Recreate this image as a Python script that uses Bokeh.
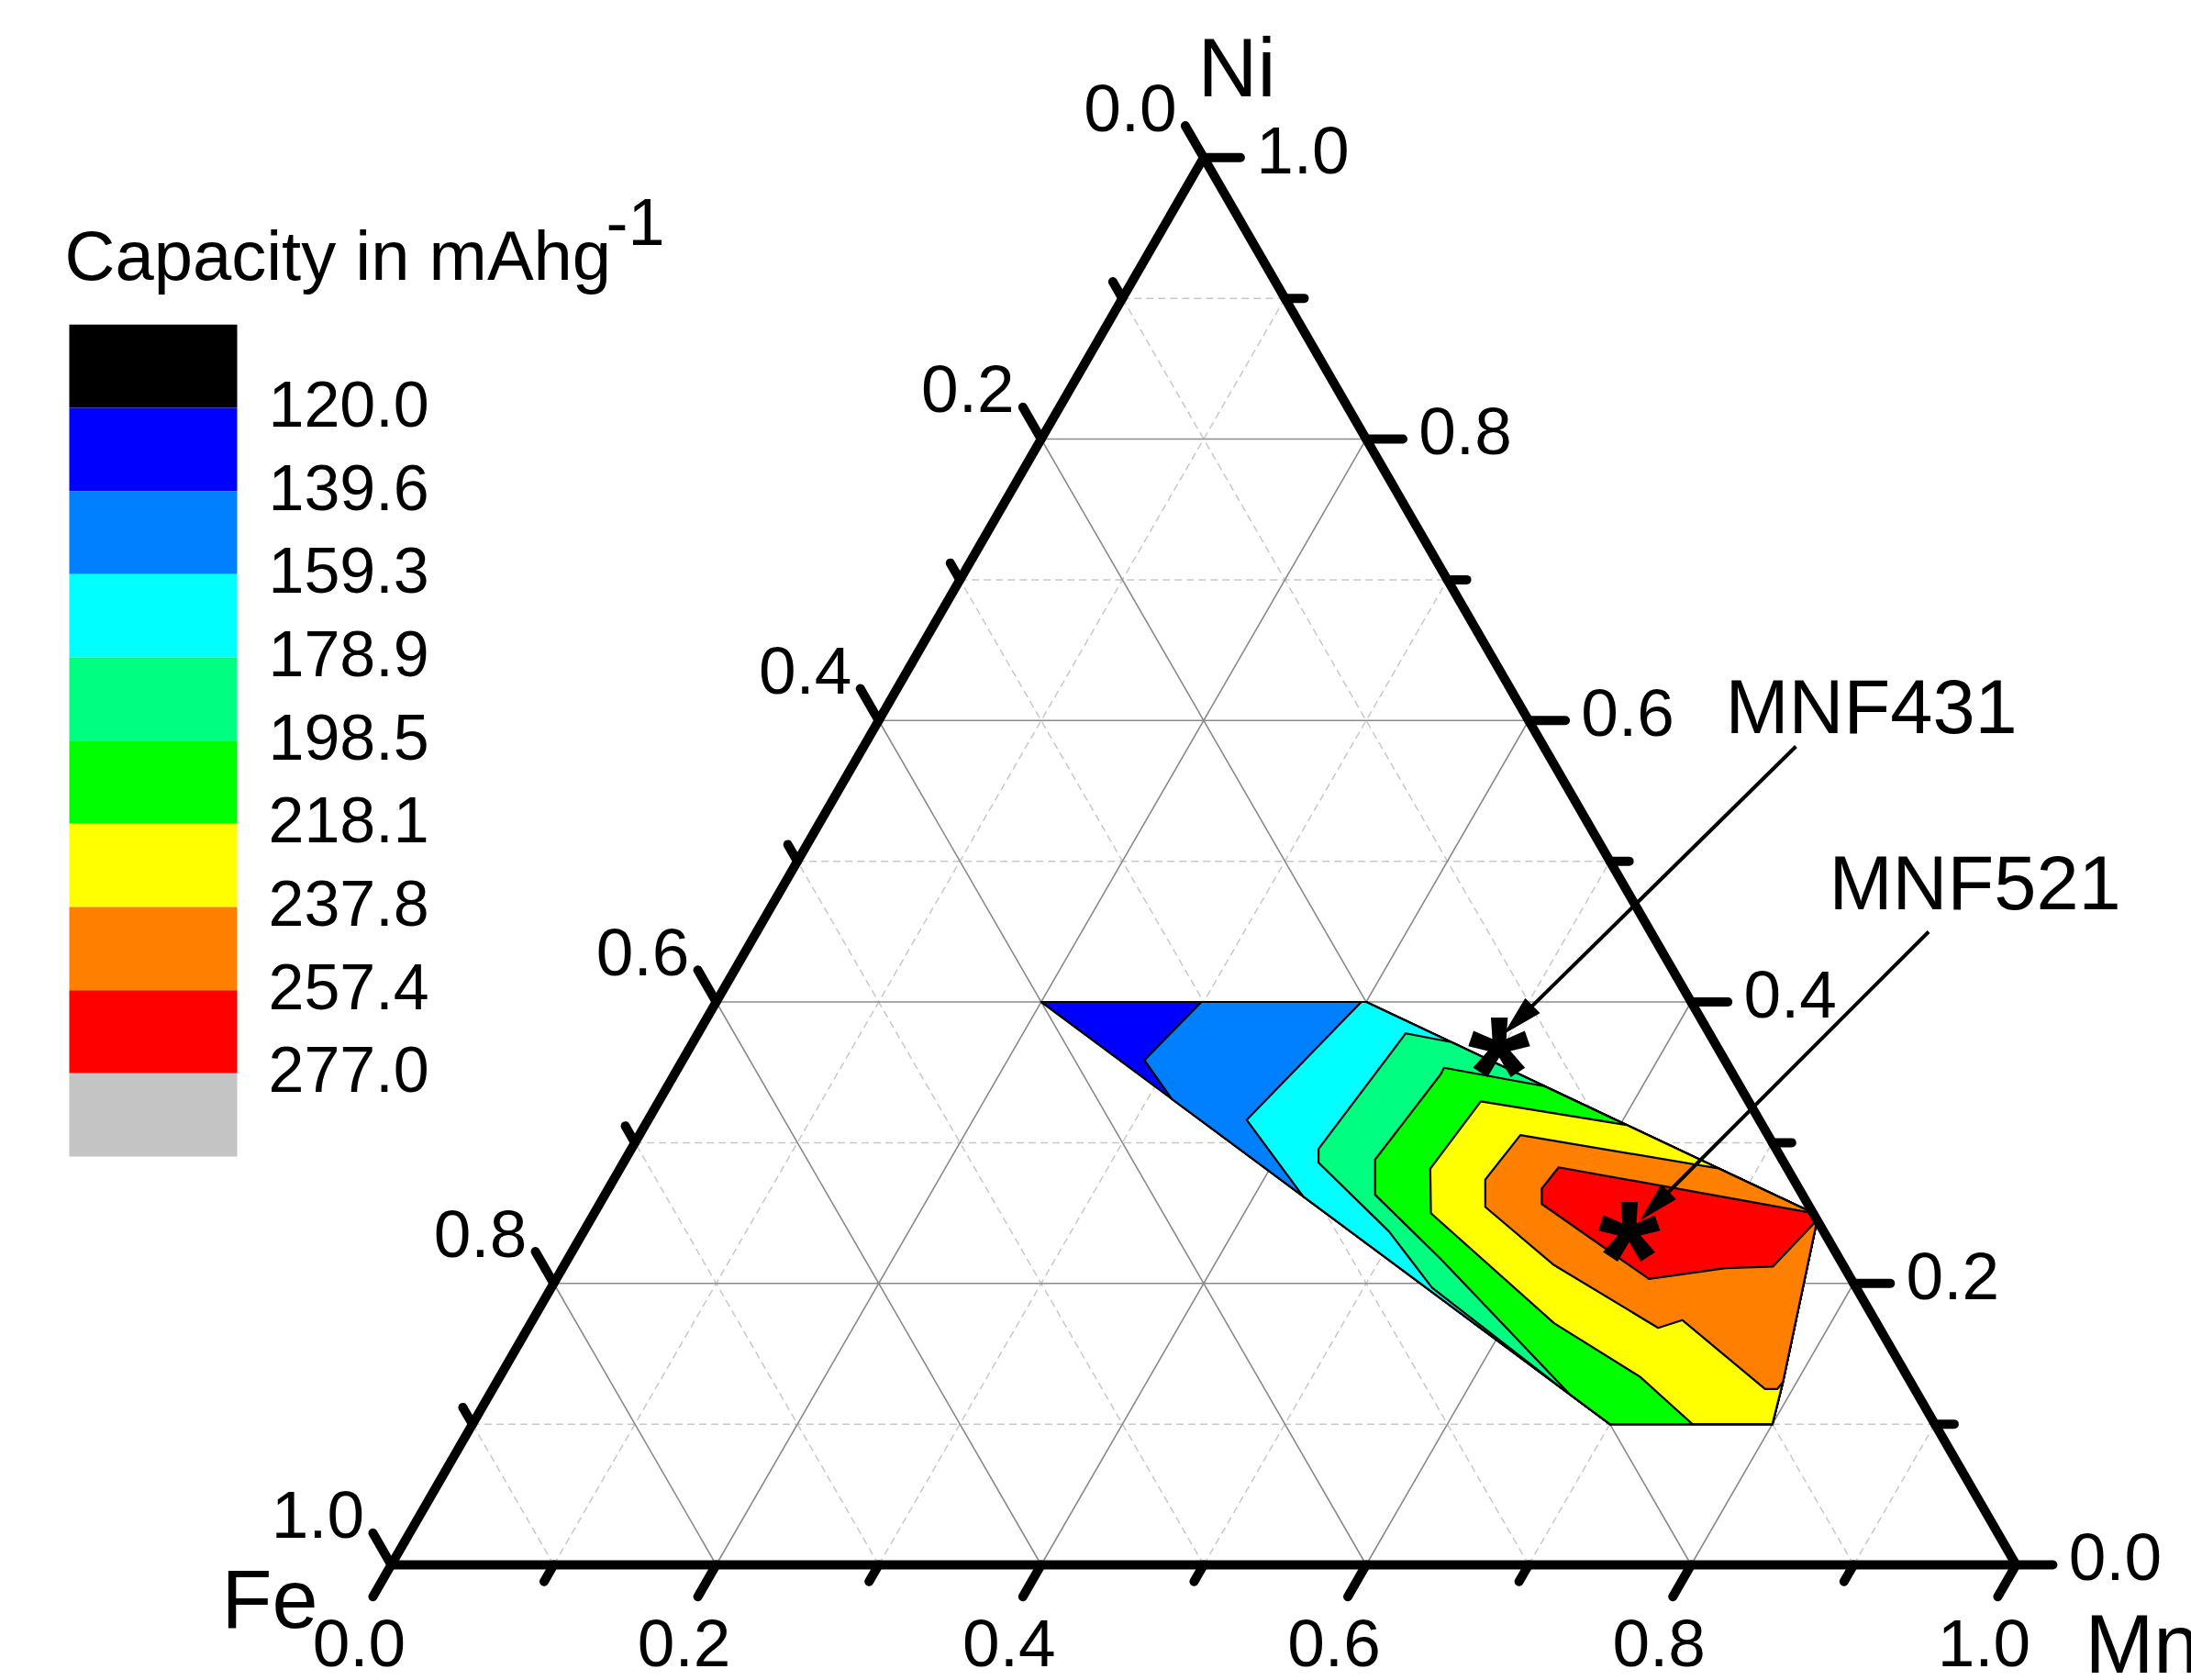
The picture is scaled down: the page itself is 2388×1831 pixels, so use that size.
import numpy as np
from bokeh.plotting import figure
from bokeh.models import Range1d
from bokeh.core.properties import value
from bokeh.embed import file_html
from bokeh.resources import INLINE

# ---------------- data ----------------
grid_values = [0.1, 0.2, 0.3, 0.4, 0.5, 0.6, 0.7, 0.8, 0.9]
major_ticks = [0.0, 0.2, 0.4, 0.6, 0.8, 1.0]
minor_ticks = [0.1, 0.3, 0.5, 0.7, 0.9]
tick_labels = ["0.0", "0.2", "0.4", "0.6", "0.8", "1.0"]

levels = [120.0, 139.6, 159.3, 178.9, 198.5, 218.1, 237.8, 257.4, 277.0]
level_labels = ["120.0", "139.6", "159.3", "178.9", "198.5", "218.1", "237.8", "257.4", "277.0"]
legend_colors = ["#000000", "#0000FF", "#0080FF", "#00FFFF", "#00FF80",
                 "#00FF00", "#FFFF00", "#FF8000", "#FF0000", "#C4C4C4"]

# superlevel regions (capacity >= level), vertices as (Mn, Ni) fractions
region_120_0 = [(0.2, 0.4), (0.4, 0.4), (0.75, 0.25), (0.755, 0.245), (0.7915, 0.13),
                (0.8, 0.1), (0.7, 0.1)]
region_139_6 = [(0.2986, 0.4), (0.4, 0.4), (0.75, 0.25), (0.755, 0.245), (0.7915, 0.13),
                (0.8, 0.1), (0.7, 0.1), (0.3147, 0.3312), (0.2842, 0.3586)]
region_159_3 = [(0.397, 0.4), (0.4, 0.4), (0.75, 0.25), (0.755, 0.245), (0.7915, 0.13),
                (0.8, 0.1), (0.7, 0.1), (0.4303, 0.2618), (0.3684, 0.3162)]
region_178_9 = [(0.4666, 0.3715), (0.75, 0.25), (0.755, 0.245), (0.7915, 0.13), (0.8, 0.1),
                (0.7, 0.1), (0.655, 0.127), (0.542, 0.197), (0.4956, 0.2369),
                (0.4278, 0.2858), (0.4229, 0.2956), (0.4355, 0.3777)]
region_198_5 = [(0.5394, 0.3402), (0.75, 0.25), (0.755, 0.245), (0.7915, 0.13), (0.8, 0.1),
                (0.7, 0.1), (0.665, 0.121), (0.5373, 0.2173), (0.474, 0.263),
                (0.4615, 0.288), (0.4716, 0.3488), (0.4713, 0.3532)]
region_218_1 = [(0.604, 0.3126), (0.75, 0.25), (0.755, 0.245), (0.7915, 0.13), (0.8, 0.1),
                (0.7508, 0.1), (0.7016, 0.1337), (0.6298, 0.1717), (0.5149, 0.2499),
                (0.4987, 0.2815), (0.5059, 0.3293)]
region_237_8 = [(0.676, 0.2817), (0.75, 0.25), (0.755, 0.245), (0.7915, 0.13),
                (0.7906, 0.125), (0.783, 0.125), (0.7077, 0.1739), (0.6955, 0.1684),
                (0.6091, 0.213), (0.5462, 0.2543), (0.5364, 0.2738), (0.5422, 0.3054)]
region_257_4 = [(0.5772, 0.2825), (0.75, 0.25), (0.755, 0.245), (0.7443, 0.2119),
                (0.7157, 0.2108), (0.6724, 0.2032), (0.5799, 0.2564), (0.5744, 0.2673)]

sample_names = ["MNF431", "MNF521"]
sample_mn = [0.4978, 0.6436]
sample_ni = [0.3679, 0.2365]
label_mn = [0.527, 0.6534]
label_ni = [0.5881, 0.4629]
arrow_start_mn = [0.5737, 0.7212]
arrow_start_ni = [0.5816, 0.4499]
arrow_tip_mn = [0.4964, 0.6465]
arrow_tip_ni = [0.3780, 0.2456]

# ---------------- geometry ----------------
W, H = 2388, 1831
S = 1771.0               # px per unit of triangle side
X0, Y0 = 425.9, 1705.0   # Fe corner in page px
K = np.sqrt(3) / 2
BL = 0.4                 # baseline correction (fraction of font size)


def tern(mn, ni):
    mn = np.asarray(mn, dtype=float)
    ni = np.asarray(ni, dtype=float)
    return mn + ni / 2, ni * K


def pxd(xp, yp):
    return (np.asarray(xp, dtype=float) - X0) / S, (Y0 - np.asarray(yp, dtype=float)) / S


p = figure(width=W, height=H, output_backend="svg", toolbar_location=None,
           x_range=Range1d(-X0 / S, (W - X0) / S), y_range=Range1d((Y0 - H) / S, Y0 / S),
           x_axis_type=None, y_axis_type=None, min_border=0,
           min_border_left=0, min_border_right=0, min_border_top=0, min_border_bottom=0)
p.grid.visible = False
p.outline_line_color = None
p.background_fill_color = "white"
p.border_fill_color = "white"

FONT = value("Liberation Sans")


def label(x, y, texts, fs, align="left", dx=0.0, dy=0.0, style="normal"):
    p.text(x, y, text=texts, text_font=FONT, text_font_size=f"{fs}px", text_align=align,
           text_baseline="alphabetic", x_offset=dx, y_offset=dy - BL * fs,
           text_color="black", text_font_style=style)


# ---------------- grid ----------------
solid_xs, solid_ys, dash_xs, dash_ys = [], [], [], []
for v in grid_values:
    segs = [((0, v), (1 - v, v)),        # Ni = v
            ((v, 0), (v, 1 - v)),        # Mn = v
            ((1 - v, 0), (0, 1 - v))]    # Fe = v
    for a, b in segs:
        x, y = tern([a[0], b[0]], [a[1], b[1]])
        if int(round(v * 10)) % 2 == 0:
            solid_xs.append(list(x)); solid_ys.append(list(y))
        else:
            dash_xs.append(list(x)); dash_ys.append(list(y))
p.multi_line(dash_xs, dash_ys, line_color="#C8C8C8", line_width=1.5, line_dash="8 5")
p.multi_line(solid_xs, solid_ys, line_color="#8A8A8A", line_width=1.6)

# ---------------- contour regions ----------------
regions = [region_120_0, region_139_6, region_159_3, region_178_9,
           region_198_5, region_218_1, region_237_8, region_257_4]
rxs, rys = [], []
for reg in regions:
    x, y = tern([a for a, b in reg], [b for a, b in reg])
    rxs.append(list(x)); rys.append(list(y))
p.patches(rxs, rys, fill_color=legend_colors[1:9], line_color="black",
          line_width=2.2, line_join="round")

# ---------------- triangle axes ----------------
cx, cy = tern([0, 1, 0], [0, 0, 1])
p.multi_line([[cx[0], cx[1]], [cx[1], cx[2]], [cx[2], cx[0]]],
             [[cy[0], cy[1]], [cy[1], cy[2]], [cy[2], cy[0]]],
             line_color="black", line_width=10, line_cap="round")

MAJ, MIN = 40.0 / S, 21.0 / S
dir_bottom = (-0.5, -K)
dir_right = (1.0, 0.0)
dir_left = (-0.5, K)
tx0, ty0, tx1, ty1 = [], [], [], []
for vals, ln in ((major_ticks, MAJ), (minor_ticks, MIN)):
    for v in vals:
        for (mn, ni), d in (((v, 0.0), dir_bottom), ((1 - v, v), dir_right), ((0.0, 1 - v), dir_left)):
            x, y = tern(mn, ni)
            tx0.append(float(x)); ty0.append(float(y))
            tx1.append(float(x) + d[0] * ln); ty1.append(float(y) + d[1] * ln)
p.segment(tx0, ty0, tx1, ty1, line_color="black", line_width=10, line_cap="round")

# tick labels
TF = 73
bx, by = tern(major_ticks, [0.0] * 6)
label(bx, by, tick_labels, TF, "center", dx=-35, dy=115)
rx, ry = tern([1 - v for v in major_ticks], major_ticks)
label(rx, ry, tick_labels, TF, "center", dx=108, dy=21)
lx, ly = tern([0.0] * 6, [1 - v for v in major_ticks])
label(lx, ly, tick_labels, TF, "center", dx=-80, dy=-25)

# corner labels
label([cx[2]], [cy[2]], ["Ni"], 90, "center", dx=36, dy=-62)
label([cx[0]], [cy[0]], ["Fe"], 90, "left", dx=-185, dy=73)
label([cx[1]], [cy[1]], ["Mn"], 90, "left", dx=75, dy=122)

# ---------------- samples & arrows ----------------
sx, sy = tern(sample_mn, sample_ni)
STAR = 175
p.text(sx, sy, text=["*"] * len(sx), text_font=FONT, text_font_style="bold",
       text_font_size=f"{STAR}px", text_align="center", text_baseline="alphabetic",
       y_offset=0.155 * STAR, text_color="black")

ax0, ay0 = tern(arrow_start_mn, arrow_start_ni)
ax1, ay1 = tern(arrow_tip_mn, arrow_tip_ni)
HL, HW = 42.0 / S, 11.0 / S
lx0, ly0, lx1, ly1, hxs, hys = [], [], [], [], [], []
for i in range(len(ax0)):
    dx, dy = ax1[i] - ax0[i], ay1[i] - ay0[i]
    n = np.hypot(dx, dy)
    ux, uy = dx / n, dy / n
    bxh, byh = ax1[i] - ux * HL, ay1[i] - uy * HL
    lx0.append(ax0[i]); ly0.append(ay0[i]); lx1.append(bxh + ux * 2 / S); ly1.append(byh + uy * 2 / S)
    hxs.append([ax1[i], bxh - uy * HW, bxh + uy * HW])
    hys.append([ay1[i], byh + ux * HW, byh - ux * HW])
p.segment(lx0, ly0, lx1, ly1, line_color="black", line_width=4)
p.patches(hxs, hys, fill_color="black", line_color="black", line_width=1)

nx, ny = tern(label_mn, label_ni)
label(nx, ny, sample_names, 83, "left")

# ---------------- legend ----------------
n_box = len(legend_colors)
box_top, box_h = 353.3, 90.67
tops = [box_top + i * box_h for i in range(n_box)]
bots = [t + box_h for t in tops]
ql, _ = pxd([75] * n_box, [0] * n_box)
qr, _ = pxd([258] * n_box, [0] * n_box)
_, qt = pxd([0] * n_box, tops)
_, qb = pxd([0] * n_box, bots)
p.quad(left=ql, right=qr, top=qt, bottom=qb, fill_color=legend_colors, line_color=None)

lab_x, lab_y = pxd([292] * len(levels), [box_top + (i + 1) * box_h + 24 for i in range(len(levels))])
label(lab_x, lab_y, level_labels, 70, "left")

t_x, t_y = pxd([70], [308])
label(t_x, t_y, ["Capacity in mAhg"], 76, "left")
s_x, s_y = pxd([660], [270])
label(s_x, s_y, ["-1"], 72, "left")

open("out.html", "w").write(file_html(p, INLINE))
